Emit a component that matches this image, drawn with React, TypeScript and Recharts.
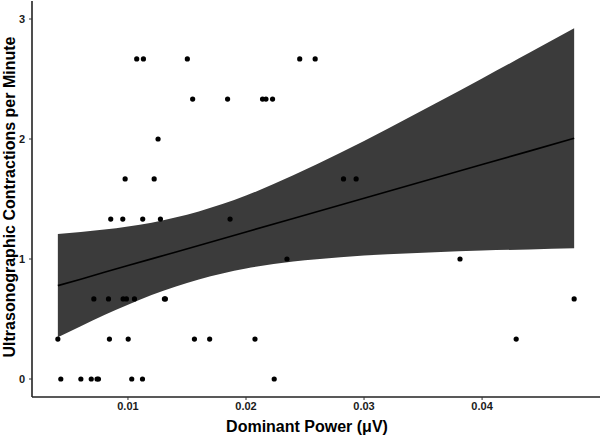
import React from 'react';
import { ComposedChart, Area, Line, Scatter, XAxis, YAxis, Label } from 'recharts';

// Observed points: Dominant power (µV) vs contractions per minute
const pointX = [
  0.01074, 0.01131, 0.01503, 0.02455, 0.02586,
  0.01548, 0.01844, 0.0214, 0.02169, 0.02225,
  0.01255,
  0.00976, 0.01222, 0.02826, 0.02933,
  0.00854, 0.00956, 0.01125, 0.01275, 0.01865,
  0.02347, 0.03813,
  0.00711, 0.00835, 0.00959, 0.00987, 0.01055, 0.01309, 0.01317, 0.0478,
  0.00406, 0.00843, 0.01002, 0.01563, 0.01692, 0.02076, 0.04289,
  0.00431, 0.00601, 0.00689, 0.00738, 0.0075, 0.01032, 0.01123, 0.02239,
];
const pointY = [
  2.667, 2.667, 2.667, 2.667, 2.667,
  2.333, 2.333, 2.333, 2.333, 2.333,
  2,
  1.667, 1.667, 1.667, 1.667,
  1.333, 1.333, 1.333, 1.333, 1.333,
  1, 1,
  0.667, 0.667, 0.667, 0.667, 0.667, 0.667, 0.667, 0.667,
  0.333, 0.333, 0.333, 0.333, 0.333, 0.333, 0.333,
  0, 0, 0, 0, 0, 0, 0, 0,
];

// Fitted line and confidence band
const bandX = [0.00406, 0.006, 0.008, 0.01, 0.012, 0.014, 0.016, 0.018, 0.02, 0.024, 0.028, 0.032, 0.036, 0.04, 0.044, 0.0478];
const bandLower = [0.348, 0.44, 0.533, 0.619, 0.699, 0.769, 0.83, 0.88, 0.921, 0.979, 1.015, 1.039, 1.057, 1.07, 1.08, 1.089];
const bandUpper = [1.208, 1.224, 1.245, 1.271, 1.303, 1.345, 1.396, 1.458, 1.529, 1.697, 1.885, 2.085, 2.293, 2.504, 2.718, 2.923];
const fitY = [0.778, 0.832, 0.889, 0.945, 1.001, 1.057, 1.113, 1.169, 1.225, 1.338, 1.45, 1.562, 1.675, 1.787, 1.899, 2.006];

const xTicks = [0.01, 0.02, 0.03, 0.04];
const yTicks = [0, 1, 2, 3];

const bandData = bandX.map((x, i) => ({ x, band: [bandLower[i], bandUpper[i]], fit: fitY[i] }));
const points = pointX.map((x, i) => ({ x, y: pointY[i] }));

const FONT = '"Liberation Sans", Arial, Helvetica, sans-serif';
const tickStyle = { fill: '#1a1a1a', fontSize: 11, fontWeight: 'bold', fontFamily: FONT };
const titleStyle = { fill: '#000', fontSize: 16, fontWeight: 'bold', fontFamily: FONT };

export default function App() {
  return (
    <div style={{ position: 'absolute', left: 0, top: 0, background: '#fff' }}>
      <ComposedChart
        width={602}
        height={437}
        data={bandData}
        margin={{ top: 1, right: 2, left: 0, bottom: 0 }}
      >
        <XAxis
          dataKey="x"
          type="number"
          domain={[0.00187, 0.04999]}
          ticks={xTicks}
          allowDataOverflow
          height={40}
          tickSize={3}
          tickMargin={2}
          stroke="#222"
          axisLine={{ stroke: '#222', strokeWidth: 1.6 }}
          tickLine={{ stroke: '#333', strokeWidth: 1 }}
          tick={tickStyle}
          tickFormatter={(v) => String(v)}
        >
          <Label value="Dominant Power (μV)" position="insideBottom" offset={5} dx={-9} style={titleStyle} />
        </XAxis>
        <YAxis
          type="number"
          domain={[-0.15, 3.15]}
          ticks={yTicks}
          allowDataOverflow
          width={32}
          tickSize={3}
          tickMargin={4}
          stroke="#222"
          axisLine={{ stroke: '#222', strokeWidth: 1.6 }}
          tickLine={{ stroke: '#333', strokeWidth: 1 }}
          tick={tickStyle}
        >
          <Label
            value="Ultrasonographic Contractions per Minute"
            angle={-90}
            position="insideLeft"
            offset={9}
            dy={-2}
            style={{ ...titleStyle, textAnchor: 'middle' }}
          />
        </YAxis>
        <Area
          dataKey="band"
          type="monotone"
          fill="#3b3b3b"
          fillOpacity={1}
          stroke="none"
          isAnimationActive={false}
        />
        <Line
          dataKey="fit"
          type="linear"
          stroke="#000"
          strokeWidth={1.6}
          dot={false}
          activeDot={false}
          isAnimationActive={false}
        />
        <Scatter
          data={points}
          dataKey="y"
          fill="#000"
          isAnimationActive={false}
          shape={(p: any) => <circle cx={p.cx} cy={p.cy} r={2.6} fill="#000" />}
        />
      </ComposedChart>
    </div>
  );
}
